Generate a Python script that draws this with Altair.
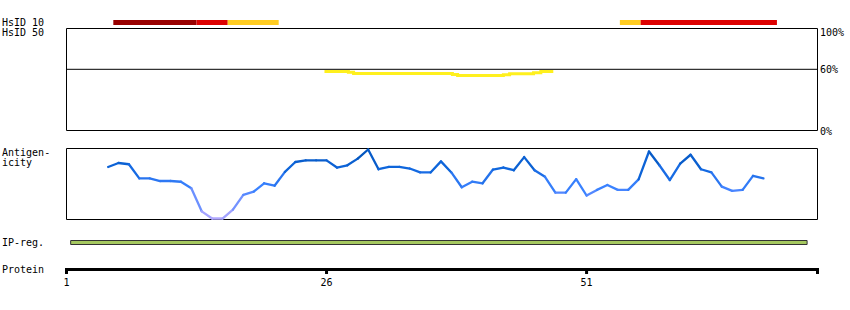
import altair as alt
import pandas as pd

FONT = "DejaVu Sans Mono"

# ---- axis / protein
protein_end = 73.2
tick_pos = [1, 26, 51]
tick_labels = ["1", "26", "51"]

# ---- HsID 10 bars (start, end, level)
hsid_start = [5.5, 13.5, 16.5, 54.2, 56.2]
hsid_end = [13.5, 16.5, 21.4, 56.2, 69.3]
hsid_level = ["high", "mid", "low", "low", "mid"]

# ---- identity line (percent) as flat segments
id_start = [25.8, 28.1, 28.6, 38.1, 38.6, 43.0, 43.6, 45.9, 46.6]
id_end = [28.1, 28.6, 38.1, 38.6, 43.0, 43.6, 45.9, 46.6, 47.8]
id_val = [57.8, 57.2, 55.9, 54.9, 53.9, 54.6, 55.6, 56.6, 57.8]

# ---- antigenicity (residues 5..68)
anti_pos = list(range(5, 69))
anti_val = [74.0, 79.6, 77.8, 57.9, 57.9, 54.2, 54.2, 53.2, 44.0, 11.5,
            1.4, 1.4, 13.9, 34.7, 39.3, 51.0, 47.6, 67.1, 81.0, 83.3,
            83.3, 83.3, 73.2, 76.4, 85.7, 98.6, 70.8, 74.0, 74.0, 71.8,
            66.3, 66.3, 81.9, 66.3, 45.4, 53.2, 51.0, 70.4, 73.2, 69.4,
            87.9, 69.4, 60.1, 37.9, 37.9, 56.9, 33.8, 41.7, 48.6, 41.7,
            41.7, 56.5, 95.8, 76.4, 55.6, 78.8, 91.2, 70.8, 66.3, 46.3,
            40.3, 41.7, 61.5, 57.9]

# ---- IP region
ip_start = [1.4]
ip_end = [72.2]

pct_ticks = [0, 60]
pct_labels = ["0%", "60%"]
pct_top = [100]
pct_top_label = ["100%"]

# ---------------- scales
xs = alt.Scale(domain=[1, protein_end], range=[66.5, 817.5], nice=False, zero=False)
y_id = alt.Scale(domain=[0, 100], range=[130.5, 28.5], nice=False, zero=False)
y_an = alt.Scale(domain=[0, 100], range=[219.5, 148.5], nice=False, zero=False)

def X(f):
    return alt.X(f, type="quantitative", scale=xs, axis=None)

# HsID bars
hs_df = pd.DataFrame({"s": hsid_start, "e": hsid_end, "lvl": hsid_level})
hsid = alt.Chart(hs_df).mark_rect().encode(
    x=X("s"), x2="e",
    y=alt.value(20), y2=alt.value(25),
    color=alt.Color("lvl:N", scale=alt.Scale(domain=["high", "mid", "low"],
                                             range=["#990000", "#dd0000", "#ffcc22"]),
                    legend=None),
)

# identity box
box_df = pd.DataFrame({"x": [1], "x2": [protein_end], "y": [0], "y2": [100]})
id_box = alt.Chart(box_df).mark_rect(fillOpacity=0, stroke="black", strokeWidth=1).encode(
    x=X("x"), x2="x2",
    y=alt.Y("y:Q", scale=y_id, axis=None), y2="y2",
)
rule_df = pd.DataFrame({"x": [1], "x2": [protein_end], "y": [60]})
id_rule = alt.Chart(rule_df).mark_rule(color="black", strokeWidth=1).encode(
    x=X("x"), x2="x2",
    y=alt.Y("y:Q", scale=y_id, axis=None),
)
pts = []
o = 0
for s, e, v in zip(id_start, id_end, id_val):
    pts.append({"x": s, "v": v, "o": o}); o += 1
    pts.append({"x": e, "v": v, "o": o}); o += 1
id_line = alt.Chart(pd.DataFrame(pts)).mark_line(color="#fff01e", strokeWidth=3).encode(
    x=X("x"),
    y=alt.Y("v:Q", scale=y_id, axis=None),
    order="o:Q",
)
pct_df = pd.DataFrame({"v": pct_ticks, "t": pct_labels})
pct_text = alt.Chart(pct_df).mark_text(align="left", baseline="middle", font=FONT,
                                        fontSize=10, color="black", dy=1).encode(
    x=alt.value(820),
    y=alt.Y("v:Q", scale=y_id, axis=None),
    text="t:N",
)
pct_top_df = pd.DataFrame({"v": pct_top, "t": pct_top_label})
pct_top_text = alt.Chart(pct_top_df).mark_text(align="left", baseline="middle", font=FONT,
                                                fontSize=10, color="black", dy=4).encode(
    x=alt.value(820),
    y=alt.Y("v:Q", scale=y_id, axis=None),
    text="t:N",
)

# antigenicity box
an_box = alt.Chart(box_df).mark_rect(fillOpacity=0, stroke="black", strokeWidth=1).encode(
    x=X("x"), x2="x2",
    y=alt.Y("y:Q", scale=y_an, axis=None), y2="y2",
)
seg = []
for i in range(len(anti_pos) - 1):
    seg.append({"x": anti_pos[i], "x2": anti_pos[i + 1],
                "y": anti_val[i], "y2": anti_val[i + 1],
                "c": (anti_val[i] + anti_val[i + 1]) / 2})
an_line = alt.Chart(pd.DataFrame(seg)).mark_rule(strokeWidth=2.3, strokeCap="round").encode(
    x=X("x"), x2="x2",
    y=alt.Y("y:Q", scale=y_an, axis=None), y2="y2",
    color=alt.Color("c:Q", scale=alt.Scale(domain=[0, 20, 45, 70, 100],
                                           range=["#b4aaff", "#7c96ff", "#3a82ff",
                                                  "#1068e0", "#0050b4"]),
                    legend=None),
)

# IP region
ip_df = pd.DataFrame({"s": ip_start, "e": ip_end})
ip = alt.Chart(ip_df).mark_rect(fill="#a5c85f", stroke="#333333", strokeWidth=1).encode(
    x=X("s"), x2="e",
    y=alt.value(240.5), y2=alt.value(244.5),
)

# protein axis
pa_df = pd.DataFrame({"x": [1], "x2": [protein_end]})
p_line = alt.Chart(pa_df).mark_rule(color="black", strokeWidth=3).encode(
    x=X("x"), x2="x2", y=alt.value(269.5),
)
tk_df = pd.DataFrame({"x": tick_pos + [protein_end], "t": tick_labels + [""]})
p_ticks = alt.Chart(tk_df).mark_rule(color="black", strokeWidth=3).encode(
    x=X("x"), y=alt.value(268), y2=alt.value(274),
)
p_text = alt.Chart(tk_df).mark_text(align="center", baseline="middle", font=FONT,
                                    fontSize=10, color="black").encode(
    x=X("x"), y=alt.value(283), text="t:N",
)

# left labels
def label(txt, y):
    return alt.Chart(pd.DataFrame({"t": [txt]})).mark_text(
        align="left", baseline="alphabetic", font=FONT, fontSize=10, color="black"
    ).encode(x=alt.value(2), y=alt.value(y), text="t:N")

labels = [label("HsID 10", 26), label("HsID 50", 36), label("Antigen-", 156),
          label("icity", 166), label("IP-reg.", 246), label("Protein", 273)]

chart = alt.layer(
    id_box, id_rule, id_line, pct_text, pct_top_text, hsid,
    an_box, an_line, ip, p_line, p_ticks, p_text, *labels
).resolve_scale(y="independent", color="independent").properties(
    width=850, height=310, padding=0, autosize=alt.AutoSizeParams(type="none"),
    background="white",
).configure_view(stroke=None)

chart.save("out.html", embed_options={"renderer": "svg", "actions": False})
